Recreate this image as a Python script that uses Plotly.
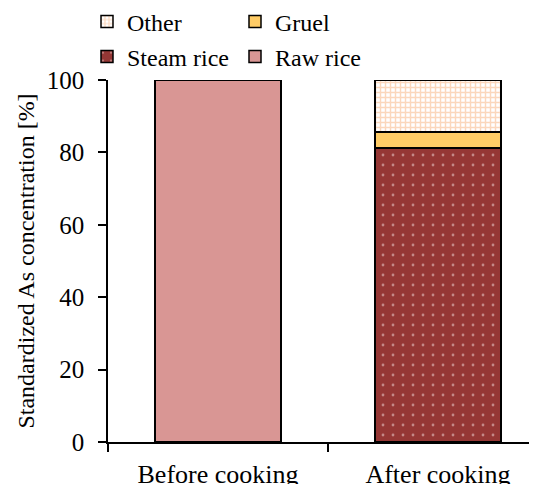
import plotly.graph_objects as go

categories = ["Before cooking", "After cooking"]
raw_rice = [100, None]
steam_rice = [None, 81.2]
gruel = [None, 4.4]
other = [None, 14.4]
y_ticks = [0, 20, 40, 60, 80, 100]

FONT = "Liberation Serif"
line = dict(color="black", width=1.5)
bw = 0.573

fig = go.Figure()
fig.add_trace(go.Bar(x=categories, y=raw_rice, name="Raw rice", width=bw,
                     marker=dict(color="#D99694", line=line), legend="legend2"))
fig.add_trace(go.Bar(x=categories, y=steam_rice, name="Steam rice", width=bw,
                     marker=dict(color="#953735", line=line,
                                 pattern=dict(shape=".", fgcolor="#F2DCDB", bgcolor="#953735",
                                              size=10, solidity=0.06)),
                     legend="legend2"))
fig.add_trace(go.Bar(x=categories, y=gruel, name="Gruel", width=bw,
                     marker=dict(color="#FFCC66", line=line), legend="legend"))
fig.add_trace(go.Bar(x=categories, y=other, name="Other", width=bw,
                     marker=dict(color="white", line=line,
                                 pattern=dict(shape="+", fgcolor="#F8B07A", bgcolor="white",
                                              size=5, solidity=0.5)),
                     legend="legend"))

leg_common = dict(orientation="h", xref="container", yref="container",
                  xanchor="left", yanchor="middle", traceorder="reversed",
                  font=dict(family=FONT, size=24, color="black"),
                  entrywidth=103, entrywidthmode="pixels",
                  bgcolor="rgba(0,0,0,0)", borderwidth=0)

fig.update_layout(
    barmode="stack",
    width=537, height=484,
    margin=dict(l=100, r=8, t=72, b=50, autoexpand=False),
    paper_bgcolor="white", plot_bgcolor="white",
    font=dict(family=FONT, size=24, color="black"),
    showlegend=True,
    legend=dict(x=79 / 537, y=1 - 14 / 484, **leg_common),
    legend2=dict(x=79 / 537, y=1 - 49 / 484, **leg_common),
    xaxis=dict(range=[-0.5, 1.45], showline=True, linecolor="black", linewidth=1.5,
               ticks="outside", tickson="boundaries", ticklen=8, tickwidth=1.5,
               tickcolor="black", showgrid=False, zeroline=False, automargin=False,
               ticklabelstandoff=8,
               tickfont=dict(family=FONT, size=26, color="black")),
    yaxis=dict(range=[0, 100], tickvals=y_ticks, showline=True, linecolor="black",
               linewidth=1.5, ticks="outside", ticklen=8, tickwidth=1.5,
               tickcolor="black", showgrid=False, zeroline=False, automargin=False,
               ticklabelstandoff=9,
               tickfont=dict(family=FONT, size=25, color="black"),
               title=dict(text="Standardized As concentration [%]",
                          font=dict(family=FONT, size=24, color="black"), standoff=5)),
)

fig.write_html("out.html")
